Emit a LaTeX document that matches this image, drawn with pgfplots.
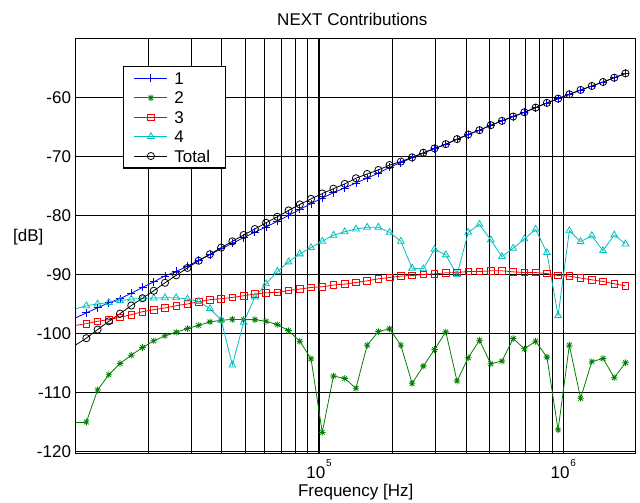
\documentclass[border=0pt]{standalone}
\usepackage{fontspec}
\setmainfont{Liberation Sans}
\usepackage{pgfplots}
\pgfplotsset{compat=1.18}
\usepackage{pgfplotstable}
\usetikzlibrary{calc}
\definecolor{mblue}{RGB}{0,0,255}
\definecolor{mgreen}{RGB}{0,128,0}
\definecolor{mred}{RGB}{255,0,0}
\definecolor{mcyan}{RGB}{0,191,191}
\newcommand\F{\fontsize{17}{20.4}\selectfont}
\pgfdeclareplotmark{mstar}{%
 \pgfpathmoveto{\pgfqpoint{-\pgfplotmarksize}{0pt}}\pgfpathlineto{\pgfqpoint{\pgfplotmarksize}{0pt}}%
 \pgfpathmoveto{\pgfqpoint{0pt}{-\pgfplotmarksize}}\pgfpathlineto{\pgfqpoint{0pt}{\pgfplotmarksize}}%
 \pgfpathmoveto{\pgfqpoint{-.707\pgfplotmarksize}{-.707\pgfplotmarksize}}\pgfpathlineto{\pgfqpoint{.707\pgfplotmarksize}{.707\pgfplotmarksize}}%
 \pgfpathmoveto{\pgfqpoint{-.707\pgfplotmarksize}{.707\pgfplotmarksize}}\pgfpathlineto{\pgfqpoint{.707\pgfplotmarksize}{-.707\pgfplotmarksize}}%
 \pgfusepathqstroke}
\pgfplotsset{legend image code/.code={\draw[#1,mark repeat=2,mark phase=2] plot coordinates {(0pt,0pt) (16.5pt,0pt) (33pt,0pt)};}}
% segment from the left axis edge to the first sample
\pgfplotstableread{
f s1 s2 s3 s4 tot
10035 -97.4 -115.0 -98.65 -95.85 -102.0
11156 -96.5 -115.0 -98.33 -95.30 -100.8
}\edge
\pgfplotstableread{
f s1 s2 s3 s4 tot
11156 -96.5 -115.0 -98.33 -95.30 -100.8
12402 -95.65 -109.58 -97.94 -95.01 -99.34
13788 -94.8 -106.98 -97.66 -94.74 -97.94
15328 -94.1 -105.08 -97.27 -94.45 -96.64
17040 -93.2 -103.68 -96.81 -94.17 -95.27
18943 -92.2 -102.38 -96.31 -94.06 -94.03
21059 -91.25 -101.25 -95.97 -94.00 -92.77
23412 -90.25 -100.40 -95.68 -93.95 -91.42
26026 -89.5 -99.80 -95.30 -93.95 -90.15
28934 -88.6 -99.17 -95.01 -94.17 -88.9
32166 -87.6 -98.62 -94.62 -94.57 -87.68
35759 -86.65 -98.04 -94.28 -95.80 -86.58
39753 -85.65 -97.77 -94.11 -97.71 -85.46
44193 -84.75 -97.61 -93.90 -105.36 -84.4
49129 -83.75 -97.66 -93.61 -98.11 -83.32
54616 -82.85 -97.66 -93.32 -93.83 -82.31
60716 -81.95 -97.94 -93.1 -91.59 -81.25
67498 -81.0 -98.50 -93.05 -89.51 -80.24
75037 -80.0 -99.51 -92.72 -87.88 -79.16
83418 -79.0 -101.32 -92.48 -86.53 -78.14
92735 -78.0 -104.28 -92.21 -85.46 -77.2
103090 -77.05 -116.76 -92.09 -84.38 -76.29
114610 -76.15 -107.22 -91.80 -83.37 -75.48
127410 -75.35 -107.61 -91.64 -82.77 -74.67
141640 -74.5 -109.29 -91.37 -82.31 -73.71
157460 -73.7 -101.99 -91.08 -82.02 -72.98
175050 -72.85 -99.68 -90.74 -82.02 -72.31
194600 -71.85 -99.22 -90.52 -82.87 -71.47
216330 -71.05 -101.99 -90.29 -84.38 -70.89
240500 -70.25 -108.45 -90.19 -88.94 -70.17
267360 -69.45 -105.53 -90.02 -89.06 -69.38
297220 -68.7 -102.72 -89.90 -85.73 -68.65
330420 -67.97 -99.73 -89.73 -86.70 -67.93
367320 -67.1 -108.06 -89.68 -90.07 -67.08
408350 -66.3 -104.11 -89.51 -82.87 -66.29
453960 -65.57 -101.15 -89.51 -81.52 -65.56
504660 -64.73 -105.13 -89.39 -84.17 -64.72
561030 -63.99 -104.69 -89.39 -86.98 -63.98
623690 -63.26 -100.86 -89.56 -85.57 -63.25
693350 -62.54 -102.60 -89.68 -84.00 -62.53
770790 -61.75 -101.32 -89.68 -82.36 -61.74
856880 -60.95 -104.01 -89.85 -86.31 -60.94
952580 -60.23 -116.32 -90.19 -96.98 -60.22
1059000 -59.5 -101.99 -90.29 -82.60 -59.49
1177200 -58.76 -110.98 -90.62 -84.45 -58.75
1308700 -58.09 -104.79 -90.91 -83.44 -58.08
1454900 -57.41 -104.23 -91.20 -85.97 -57.40
1617400 -56.69 -107.49 -91.59 -83.32 -56.68
1798000 -55.96 -104.96 -91.92 -84.84 -55.95
}\data
\begin{document}
\begin{tikzpicture}
\begin{axis}[
 name=ax,
 scale only axis, width=560pt, height=415pt,
 xmode=log, xmin=1.009e4, xmax=1.98e6,
 ymin=-120.3, ymax=-50,
 xtick={1e5,1e6},
 xticklabels={10\kern0.8pt\raisebox{11.5pt}{\fontsize{10}{10}\selectfont 5},10\kern0.8pt\raisebox{11.5pt}{\fontsize{10}{10}\selectfont 6}},
 minor xtick={2e4,3e4,4e4,5e4,6e4,7e4,8e4,9e4,2e5,3e5,4e5,5e5,6e5,7e5,8e5,9e5},
 ytick={-120,-110,-100,-90,-80,-70,-60},
 yticklabels={-120,-110,-100,-90,-80,-70,-60},
 grid=both,
 major grid style={black, line width=1.1pt},
 minor grid style={black, line width=1.1pt},
 axis line style={black, line width=1.3pt},
 tick align=inside, major tick length=4pt, minor tick length=2pt,
 tick style={black, line width=1pt},
 xticklabel style={font=\F, anchor=base, inner sep=0pt, yshift=-24.7pt},
 yticklabel style={font=\F, anchor=east, inner sep=0pt, xshift=-4.5pt},
 title={NEXT Contributions},
 title style={font=\F, at={(axis description cs:0.494,1)}, anchor=base, yshift=6.3pt, inner sep=0pt},
 xlabel={Frequency [Hz]},
 xlabel style={font=\F, at={(axis description cs:0.5,0)}, anchor=base, yshift=-42.7pt, inner sep=0pt},
 ylabel={[dB]},
 ylabel style={font=\F, rotate=-90, at={(axis description cs:0,0.52)}, anchor=center, xshift=-47.5pt, inner sep=0pt},
 legend cell align=left,
 legend style={font=\F, at={(axis description cs:0.0845,0.934)}, anchor=north west,
   draw=black, line width=1.3pt, fill=white, inner xsep=10.3pt, inner ysep=6pt, row sep=7.2pt,
   nodes={inner sep=0pt, text height=12.2pt, text depth=0pt}},
 every axis plot/.append style={line width=0.8pt, mark options={solid, line width=0.8pt}},
]
\addplot[mblue, mark=+, mark size=4pt] table[x=f,y=s1]{\data};
\addlegendentry{\hspace*{6.5pt}1}
\addplot[mgreen, mark=mstar, mark size=3.3pt] table[x=f,y=s2]{\data};
\addlegendentry{\hspace*{6.5pt}2}
\addplot[mred, mark=square, mark size=3.3pt] table[x=f,y=s3]{\data};
\addlegendentry{\hspace*{6.5pt}3}
\addplot[mcyan, mark=triangle, mark size=3.9pt] table[x=f,y=s4]{\data};
\addlegendentry{\hspace*{6.5pt}4}
\addplot[black, mark=o, mark size=3.6pt] table[x=f,y=tot]{\data};
\addlegendentry{\hspace*{6.5pt}Total\hspace*{4.7pt}}
\addplot[mblue, no markers, forget plot] table[x=f,y=s1]{\edge};
\addplot[mgreen, no markers, forget plot] table[x=f,y=s2]{\edge};
\addplot[mred, no markers, forget plot] table[x=f,y=s3]{\edge};
\addplot[mcyan, no markers, forget plot] table[x=f,y=s4]{\edge};
\addplot[black, no markers, forget plot] table[x=f,y=tot]{\edge};
\end{axis}
\coordinate (bbA) at ($(ax.south west)+(-75.7pt,-49.7pt)$);
\coordinate (bbB) at ($(ax.north east)+(4.3pt,38.3pt)$);
\pgfresetboundingbox
\path[use as bounding box] (bbA) rectangle (bbB);
\end{tikzpicture}
\end{document}
